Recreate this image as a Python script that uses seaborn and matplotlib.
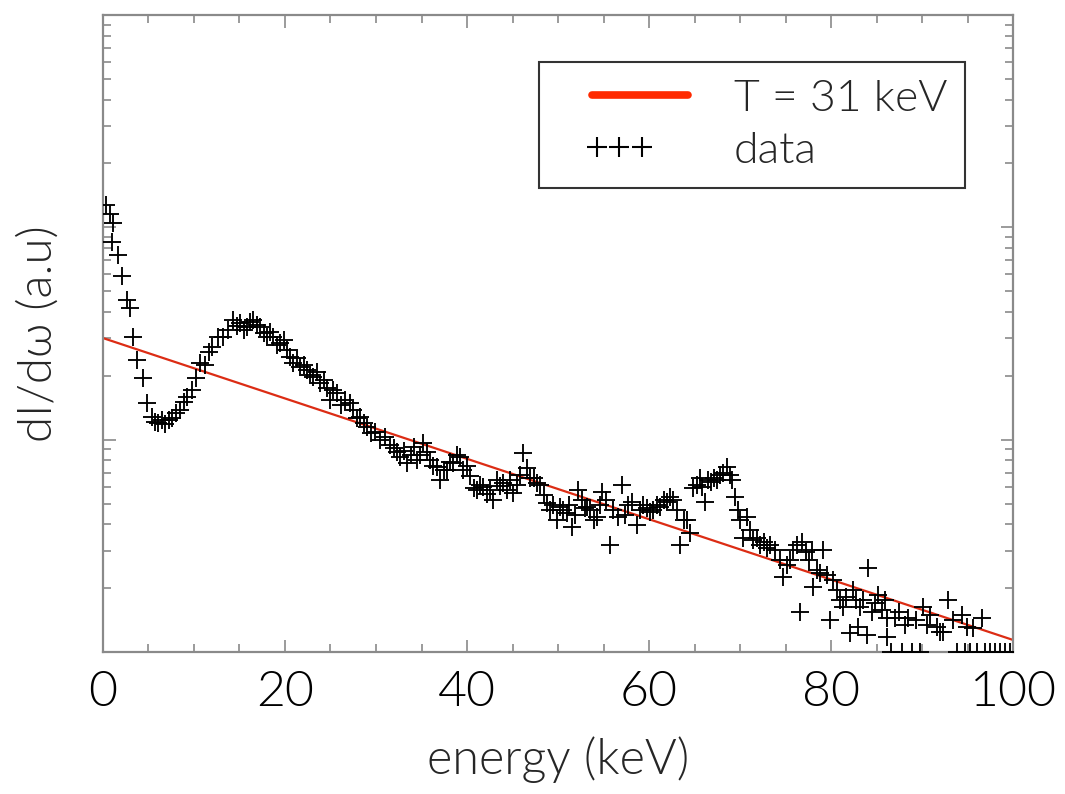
import matplotlib
matplotlib.use("Agg")
import matplotlib.pyplot as plt
import numpy as np
import pandas as pd
import seaborn as sns
from matplotlib.legend_handler import HandlerLine2D
from matplotlib.lines import Line2D
from matplotlib.ticker import MultipleLocator, LogLocator, NullFormatter

energy = [0.33, 0.77, 1.1, 0.99, 1.65, 2.09, 2.64, 2.97, 3.30, 3.74,
          4.40, 4.84, 5.38, 5.71, 6.04, 6.48, 6.81, 7.25, 7.58, 8.02,
          8.46, 8.90, 9.23, 9.78, 10.2, 10.66, 11.2, 11.65, 11.98, 12.64,
          13.2, 13.7, 14.3, 14.7, 15.05, 15.5, 15.8, 16.2, 16.5, 16.9,
          17.25, 17.7, 18.0, 18.35, 18.7, 19.1, 19.45, 19.9, 20.2, 20.5,
          20.9, 21.3, 21.65, 22.1, 22.4, 22.75, 23.1, 23.5, 23.85, 24.3,
          24.6, 24.9, 25.3, 25.7, 26.15, 26.6, 27.1, 27.5, 27.9, 28.2,
          28.7, 29.0, 29.45, 29.9, 30.4, 31.0, 31.5, 32.0, 32.3, 32.6,
          33.1, 33.4, 33.8, 34.2, 34.5, 34.8, 35.2, 35.6, 35.9, 36.3,
          36.7, 37.0, 37.5, 37.8, 38.1, 38.5, 38.9, 39.2, 39.6, 40.0,
          40.3, 40.8, 41.1, 41.4, 41.8, 42.2, 42.5, 42.9, 43.3, 43.6,
          44.0, 44.4, 44.7, 45.05, 45.5, 45.8, 46.15, 46.6, 46.9, 47.4,
          47.7, 48.0, 48.5, 48.8, 49.1, 49.45, 49.9, 50.2, 50.55, 51.0,
          51.2, 51.5, 51.9, 52.2, 52.6, 53.0, 53.2, 53.5, 54.0, 54.3,
          54.6, 54.8, 55.3, 55.7, 56.0, 56.6, 57.0, 57.4, 57.7, 58.1,
          58.7, 59.0, 59.3, 59.8, 60.1, 60.4, 60.9, 61.2, 61.6, 62.0,
          62.3, 62.6, 63.1, 63.4, 63.85, 64.2, 64.5, 64.8, 65.3, 65.6,
          65.8, 66.15, 66.5, 66.8, 67.1, 67.5, 67.8, 68.1, 68.6, 68.9,
          69.1, 69.5, 69.8, 70.0, 70.3, 70.8, 71.1, 71.4, 71.9, 72.2,
          72.6, 73.0, 73.3, 73.8, 74.4, 74.7, 75.2, 75.5, 75.8, 76.3,
          76.6, 76.8, 77.3, 77.6, 77.9, 78.0, 78.5, 78.8, 79.1, 79.6,
          79.9, 80.2, 80.7, 81.0, 81.3, 81.65, 82.1, 82.4, 82.7, 83.0,
          83.2, 83.5, 84.0, 84.1, 84.5, 84.8, 85.2, 85.6, 85.9, 86.15,
          86.2, 86.6, 87.0, 87.5, 87.8, 88.1, 88.5, 88.9, 89.3, 89.8,
          90.1, 90.5, 90.9, 91.6, 92.0, 92.3, 92.9, 93.4, 93.8, 94.4,
          94.7, 94.9, 95.3, 95.6, 96.0, 96.6, 96.9, 97.5, 98.0, 98.6,
          99.1, 99.7]
intensity = [0.127, 0.116, 0.105, 0.0853, 0.0741, 0.0590, 0.0455, 0.0417, 0.0305, 0.0237,
             0.0195, 0.0149, 0.0128, 0.0121, 0.0120, 0.0124, 0.0119, 0.0124, 0.0126, 0.0134,
             0.0138, 0.0151, 0.0159, 0.0171, 0.0195, 0.0230, 0.0225, 0.0259, 0.0273, 0.0305,
             0.0305, 0.0329, 0.0366, 0.0343, 0.0355, 0.0329, 0.0340, 0.0358, 0.0366, 0.0347,
             0.0340, 0.0318, 0.0305, 0.0322, 0.0305, 0.0279, 0.0285, 0.0295, 0.0265, 0.0245,
             0.0230, 0.0243, 0.0220, 0.0225, 0.0213, 0.0202, 0.0197, 0.0208, 0.0185, 0.0191,
             0.0175, 0.0154, 0.0171, 0.0166, 0.0146, 0.0154, 0.0149, 0.0138, 0.0126, 0.0128,
             0.0120, 0.0115, 0.0108, 0.0109, 0.00998, 0.0103, 0.00944, 0.00914, 0.00875, 0.00828,
             0.00885, 0.00776, 0.00848, 0.00925, 0.00802, 0.00848, 0.00964, 0.00875, 0.00802, 0.00752,
             0.00743, 0.00646, 0.00719, 0.00719, 0.00785, 0.00776, 0.00848, 0.00828, 0.00719, 0.00752,
             0.00675, 0.00591, 0.00579, 0.00612, 0.00598, 0.00555, 0.00579, 0.00520, 0.00646, 0.00605,
             0.00625, 0.00579, 0.00646, 0.00561, 0.00612, 0.00682, 0.00865, 0.00736, 0.00661, 0.00661,
             0.00625, 0.00612, 0.00549, 0.00503, 0.00466, 0.00492, 0.00419, 0.00482, 0.00466, 0.00452,
             0.00492, 0.00388, 0.00442, 0.00579, 0.00520, 0.00477, 0.00482, 0.00466, 0.00419, 0.00432,
             0.00492, 0.00568, 0.00520, 0.00319, 0.00466, 0.00432, 0.00612, 0.00442, 0.00492, 0.00510,
             0.00396, 0.00466, 0.00492, 0.00477, 0.00456, 0.00466, 0.00492, 0.00482, 0.00520, 0.00510,
             0.00537, 0.00520, 0.00466, 0.00319, 0.00419, 0.00419, 0.00364, 0.00591, 0.00612, 0.00661,
             0.00598, 0.00510, 0.00646, 0.00632, 0.00661, 0.00646, 0.00682, 0.00697, 0.00743, 0.00682,
             0.00646, 0.00537, 0.00466, 0.00419, 0.00344, 0.00432, 0.00376, 0.00337, 0.00344, 0.00319,
             0.00330, 0.00309, 0.00319, 0.00302, 0.00271, 0.00225, 0.00257, 0.00271, 0.00302, 0.00319,
             0.00154, 0.00330, 0.00296, 0.00271, 0.00302, 0.00202, 0.00243, 0.00235, 0.00302, 0.00231,
             0.00142, 0.00218, 0.00196, 0.00176, 0.00163, 0.00182, 0.00123, 0.00196, 0.00176, 0.00131,
             0.00163, 0.00176, 0.00120, 0.00249, 0.00154, 0.00170, 0.00185, 0.00158, 0.00176, 0.00145,
             0.00118, 0.00100, 0.00145, 0.00154, 0.00100, 0.00134, 0.00145, 0.00100, 0.00142, 0.00100,
             0.00163, 0.00134, 0.00149, 0.00131, 0.00124, 0.00124, 0.00176, 0.00142, 0.00100, 0.00149,
             0.00100, 0.00131, 0.00100, 0.00130, 0.00100, 0.00145, 0.00100, 0.00100, 0.00100, 0.00100,
             0.00100, 0.00100]

# thermal fit, T = 31 keV (straight line on the log axis)
fit_energy = [0, 100]
fit_intensity = [0.0301, 0.00114]


class HandlerFrac(HandlerLine2D):
    """place the legend line / markers at chosen fractions of the handle box"""
    def __init__(self, fracs, **kw):
        HandlerLine2D.__init__(self, **kw)
        self.fracs = np.array(fracs)

    def get_xdata(self, legend, xdescent, ydescent, width, height, fontsize):
        xdata = -xdescent + width * self.fracs
        return xdata, xdata


spec = pd.DataFrame({"energy": energy, "intensity": intensity})
fit = pd.DataFrame({"energy": fit_energy, "intensity": fit_intensity})

sns.set_style("ticks")
plt.rcParams["font.family"] = ["Lato", "DejaVu Sans"]
plt.rcParams["font.weight"] = 300

fig = plt.figure(figsize=(10.65, 7.94), dpi=100)
ax = fig.add_axes([0.0967, 0.1788, 0.8545, 0.8023])

sns.lineplot(data=fit, x="energy", y="intensity", color="#dc2c14",
             linewidth=1.6, ax=ax, legend=False)
sns.scatterplot(data=spec, x="energy", y="intensity", marker="+", s=160,
                color="black", linewidth=1.35, ax=ax, legend=False, zorder=3)

ax.set_yscale("log")
ax.set_xlim(0, 100)
ax.set_ylim(1e-3, 1)

# axes look: grey frame, ticks pointing inward on all sides
for sp in ax.spines.values():
    sp.set_color("#8a8a8a")
    sp.set_linewidth(1.6)
ax.xaxis.set_major_locator(MultipleLocator(20))
ax.xaxis.set_minor_locator(MultipleLocator(5))
ax.yaxis.set_major_locator(LogLocator(base=10))
ax.yaxis.set_minor_locator(LogLocator(base=10, subs=range(2, 10)))
ax.yaxis.set_major_formatter(NullFormatter())
ax.yaxis.set_minor_formatter(NullFormatter())
ax.tick_params(which="both", direction="in", top=True, right=True,
               color="#8a8a8a", width=1.2)
ax.tick_params(which="major", length=9)
ax.tick_params(which="minor", length=6)
ax.tick_params(axis="x", which="major", labelsize=36, pad=13,
               labelcolor="black")

ax.set_xlabel("energy (keV)", fontsize=35, labelpad=15, fontweight=300)
ax.set_ylabel("dI/d\u03c9 (a.u)", fontsize=34, labelpad=28, fontweight=300)

line_handle = Line2D([], [], color="#ff2a00", linewidth=5.5)
plus_handle = Line2D([], [], color="black", linestyle="none", marker="+",
                     markersize=15, markeredgewidth=1.5)
leg = ax.legend([line_handle, plus_handle], ["T = 31 keV", "data"],
                loc="upper right", bbox_to_anchor=(0.947, 0.926),
                fontsize=32, numpoints=3, handlelength=2.97,
                handletextpad=1.0, borderpad=0.4, labelspacing=0.28,
                frameon=True, fancybox=False, borderaxespad=0,
                handler_map={line_handle: HandlerFrac([0.26, 0.6, 0.99]),
                             plus_handle: HandlerFrac([0.30, 0.47, 0.64])})
leg.get_frame().set_edgecolor("black")
leg.get_frame().set_linewidth(1.5)

fig.savefig("out.png", dpi=100)
